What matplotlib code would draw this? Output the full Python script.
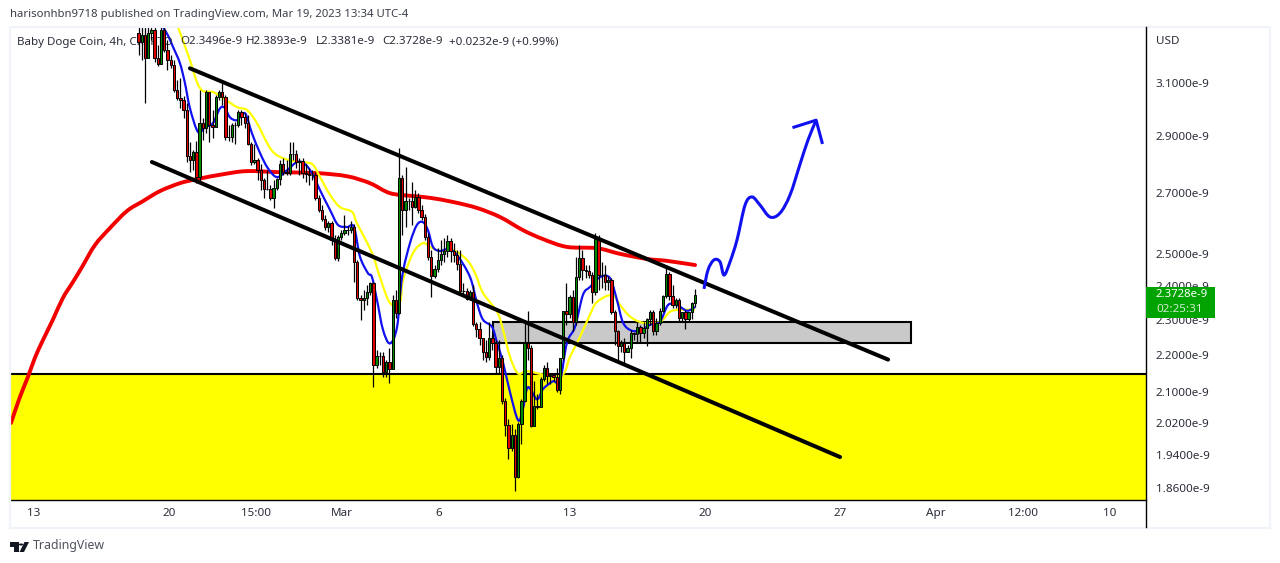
import matplotlib
matplotlib.use("Agg")
import matplotlib.pyplot as plt
from matplotlib.patches import Rectangle, Polygon, Circle, PathPatch
from matplotlib.path import Path
from matplotlib.ticker import FixedLocator, NullLocator
import numpy as np

# candles, 4h bars, prices in units of 1e-9
highs = [3.40, 3.40, 3.40, 3.40, 3.40, 3.40, 3.253, 3.40, 3.40, 3.274,
         3.212, 3.191, 3.112, 3.120, 3.049, 3.023, 2.876, 2.849, 2.880, 3.073,
         2.965, 3.073, 3.065, 2.996, 3.053, 3.073, 3.100, 3.053, 2.940, 2.947,
         2.951, 2.996, 2.996, 2.984, 2.977, 2.876, 2.869, 2.820, 2.799, 2.750,
         2.777, 2.725, 2.743, 2.750, 2.813, 2.820, 2.813, 2.876, 2.876, 2.849,
         2.820, 2.820, 2.799, 2.784, 2.777, 2.770, 2.692, 2.658, 2.625, 2.605,
         2.605, 2.559, 2.559, 2.575, 2.625, 2.588, 2.605, 2.595, 2.480, 2.373,
         2.388, 2.403, 2.412, 2.412, 2.215, 2.209, 2.209, 2.187, 2.220, 2.373,
         2.388, 2.856, 2.760, 2.788, 2.682, 2.736, 2.708, 2.698, 2.658, 2.628,
         2.565, 2.511, 2.464, 2.517, 2.543, 2.549, 2.559, 2.549, 2.533, 2.511,
         2.511, 2.409, 2.394, 2.388, 2.403, 2.294, 2.294, 2.248, 2.243, 2.294,
         2.257, 2.243, 2.243, 2.201, 2.083, 2.029, 2.016, 2.003, 2.021, 2.080,
         2.294, 2.326, 2.229, 2.128, 2.094, 2.139, 2.173, 2.179, 2.147, 2.147,
         2.165, 2.192, 2.326, 2.409, 2.373, 2.388, 2.490, 2.527, 2.511, 2.464,
         2.464, 2.443, 2.565, 2.559, 2.474, 2.464, 2.430, 2.424, 2.329, 2.271,
         2.243, 2.248, 2.229, 2.271, 2.265, 2.294, 2.285, 2.294, 2.306, 2.329,
         2.329, 2.306, 2.335, 2.373, 2.464, 2.443, 2.403, 2.364, 2.364,
         2.323, 2.329, 2.323, 2.352, 2.3893]
closes = [3.266, 3.292, 3.199, 3.301, 3.314, 3.199, 3.175, 3.314, 3.233, 3.191,
          3.171, 3.073, 3.042, 3.034, 2.996, 2.827, 2.813, 2.842, 2.753, 2.947,
          2.929, 3.065, 2.940, 2.932, 3.046, 3.065, 3.046, 2.896, 2.896, 2.940,
          2.940, 2.988, 2.969, 2.947, 2.869, 2.806, 2.813, 2.777, 2.743, 2.712,
          2.712, 2.682, 2.715, 2.746, 2.799, 2.770, 2.767, 2.835, 2.835, 2.806,
          2.810, 2.767, 2.763, 2.760, 2.760, 2.682, 2.641, 2.611, 2.585, 2.598,
          2.543, 2.486, 2.553, 2.565, 2.575, 2.575, 2.585, 2.474, 2.364, 2.358,
          2.364, 2.382, 2.409, 2.173, 2.198, 2.198, 2.152, 2.179, 2.160, 2.358,
          2.320, 2.750, 2.641, 2.671, 2.671, 2.651, 2.685, 2.641, 2.618, 2.553,
          2.490, 2.430, 2.452, 2.480, 2.499, 2.508, 2.540, 2.508, 2.495, 2.467,
          2.385, 2.385, 2.361, 2.382, 2.288, 2.274, 2.248, 2.209, 2.195, 2.248,
          2.234, 2.168, 2.192, 2.075, 2.013, 1.956, 1.988, 1.887, 2.016, 2.075,
          2.232, 2.218, 2.011, 2.062, 2.059, 2.133, 2.163, 2.141, 2.144, 2.139,
          2.104, 2.192, 2.326, 2.315, 2.367, 2.294, 2.427, 2.486, 2.449, 2.446,
          2.433, 2.382, 2.546, 2.433, 2.433, 2.412, 2.418, 2.323, 2.268, 2.226,
          2.234, 2.209, 2.220, 2.262, 2.260, 2.279, 2.262, 2.276, 2.303, 2.323,
          2.268, 2.291, 2.326, 2.370, 2.436, 2.370, 2.343, 2.358, 2.306,
          2.323, 2.303, 2.323, 2.3496, 2.3728]
lows = [3.212, 3.191, 3.023, 3.241, 3.274, 3.183, 3.167, 3.175, 3.225, 3.150,
        3.158, 3.065, 3.034, 3.003, 2.965, 2.806, 2.770, 2.777, 2.732, 2.732,
        2.885, 2.910, 2.876, 2.892, 2.932, 3.034, 3.015, 2.885, 2.880, 2.876,
        2.869, 2.932, 2.940, 2.929, 2.866, 2.795, 2.799, 2.743, 2.708, 2.682,
        2.708, 2.675, 2.648, 2.708, 2.725, 2.760, 2.760, 2.760, 2.813, 2.784,
        2.760, 2.750, 2.736, 2.725, 2.743, 2.675, 2.635, 2.605, 2.575, 2.568,
        2.527, 2.480, 2.477, 2.543, 2.559, 2.559, 2.565, 2.412, 2.358, 2.300,
        2.329, 2.343, 2.373, 2.112, 2.165, 2.173, 2.139, 2.139, 2.123, 2.160,
        2.306, 2.315, 2.559, 2.585, 2.641, 2.592, 2.648, 2.631, 2.608, 2.543,
        2.480, 2.367, 2.424, 2.443, 2.464, 2.474, 2.490, 2.474, 2.474, 2.449,
        2.382, 2.373, 2.358, 2.358, 2.282, 2.251, 2.229, 2.187, 2.179, 2.187,
        2.215, 2.147, 2.147, 2.067, 1.986, 1.929, 1.949, 1.853, 1.884, 1.966,
        2.075, 2.187, 2.008, 2.011, 2.054, 2.059, 2.128, 2.120, 2.120, 2.128,
        2.099, 2.094, 2.187, 2.285, 2.306, 2.268, 2.285, 2.418, 2.418, 2.424,
        2.424, 2.349, 2.373, 2.388, 2.394, 2.388, 2.388, 2.315, 2.229, 2.179,
        2.209, 2.173, 2.209, 2.192, 2.243, 2.237, 2.237, 2.248, 2.226, 2.285,
        2.257, 2.257, 2.285, 2.323, 2.364, 2.358, 2.335, 2.335, 2.294,
        2.294, 2.274, 2.294, 2.303, 2.3381]
first_open = 3.30
last_bar_day = 47.25  # days counted from Feb 1 = 1, Mar 1 = 29
bar_days = 1 / 6

# moving averages, day and price
blue_days = [19.68, 19.94, 20.20, 20.56, 20.82, 21.08, 21.50, 21.86, 22.27, 22.64,
             22.90, 23.15, 23.52, 23.93, 24.29, 24.71, 25.12, 25.59, 26.11, 26.63,
             27.04, 27.46, 27.82, 28.34, 28.75, 29.22, 29.58, 29.89, 30.30, 30.51,
             30.77, 31.08, 31.44, 31.81, 32.07, 32.48, 32.84, 33.15, 33.41, 33.67,
             34.03, 34.45, 34.92, 35.59, 35.95, 36.26, 36.73, 36.99, 37.30, 37.66,
             38.08, 38.33, 38.59, 39.06, 39.37, 39.89, 40.25, 40.61, 41.03, 41.44,
             41.81, 42.33, 42.84, 43.20, 43.52, 43.98, 44.50, 44.91, 45.43, 45.85,
             46.31, 46.83, 47.25]
blue_prices = [3.327, 3.292, 3.245, 3.179, 3.100, 3.003, 2.914, 2.932, 2.947, 3.003,
               3.003, 2.969, 2.958, 2.984, 2.910, 2.838, 2.784, 2.753, 2.777, 2.806,
               2.799, 2.760, 2.708, 2.641, 2.592, 2.585, 2.585, 2.490, 2.439, 2.427,
               2.358, 2.271, 2.232, 2.279, 2.427, 2.533, 2.592, 2.601, 2.575, 2.521,
               2.508, 2.514, 2.495, 2.427, 2.349, 2.300, 2.279, 2.234, 2.179, 2.099,
               2.026, 2.054, 2.112, 2.080, 2.107, 2.128, 2.128, 2.234, 2.279, 2.373,
               2.397, 2.427, 2.424, 2.358, 2.291, 2.268, 2.271, 2.285, 2.294, 2.343,
               2.343, 2.326, 2.337]
yellow_days = [20.46, 21.08, 21.44, 21.76, 22.27, 22.79, 23.52, 24.04, 24.55, 25.23,
               25.75, 26.63, 27.40, 27.82, 28.34, 28.85, 29.48, 29.73, 30.51, 30.92,
               31.44, 31.96, 32.12, 32.64, 33.15, 33.52, 34.03, 34.71, 35.43, 35.85,
               36.26, 36.99, 37.30, 37.66, 38.08, 38.59, 40.25, 40.77, 41.29, 41.81,
               42.17, 42.95, 43.36, 43.88, 44.55, 45.43, 45.95, 46.47, 47.25]
yellow_prices = [3.327, 3.191, 3.104, 3.069, 3.065, 3.042, 3.007, 2.996, 2.947, 2.856,
                 2.824, 2.806, 2.799, 2.753, 2.692, 2.651, 2.635, 2.598, 2.502, 2.427,
                 2.349, 2.352, 2.418, 2.502, 2.533, 2.521, 2.508, 2.511, 2.480, 2.439,
                 2.379, 2.323, 2.271, 2.195, 2.149, 2.155, 2.141, 2.195, 2.251, 2.315,
                 2.352, 2.373, 2.343, 2.309, 2.291, 2.294, 2.323, 2.329, 2.329]
red_days = [11.81, 12.27, 12.69, 13.05, 13.47, 13.98, 14.50, 15.02, 15.49, 16.16,
            16.94, 17.82, 18.65, 19.53, 20.56, 21.44, 22.79, 24.04, 25.75, 27.66,
            29.22, 30.41, 31.44, 32.64, 33.52, 34.71, 35.95, 37.14, 38.33, 39.37,
            40.61, 42.17, 43.36, 44.76, 45.80, 47.25]
red_prices = [2.019, 2.086, 2.140, 2.192, 2.242, 2.300, 2.364, 2.412, 2.458, 2.527,
              2.582, 2.638, 2.671, 2.705, 2.732, 2.746, 2.763, 2.774, 2.770, 2.767,
              2.756, 2.732, 2.698, 2.688, 2.682, 2.668, 2.648, 2.618, 2.575, 2.546,
              2.521, 2.517, 2.499, 2.483, 2.477, 2.464]

# hand drawn lines
upper_channel_days = [21.08, 57.25]
upper_channel_prices = [3.158, 2.187]
lower_channel_days = [19.11, 54.76]
lower_channel_prices = [2.806, 1.934]
zone_days = [36.78, 58.44]
zone_prices = [2.234, 2.294]
support_price = 2.147
arrow_days = [47.71, 47.92, 48.23, 48.54, 48.75, 49.06, 49.42, 49.84, 50.20, 50.61,
              51.13, 51.65, 52.17, 52.69, 53.10, 53.52]
arrow_prices = [2.391, 2.449, 2.480, 2.474, 2.433, 2.474, 2.543, 2.658, 2.685, 2.658,
                2.618, 2.631, 2.692, 2.799, 2.885, 2.958]
head_days = [52.37, 53.52, 53.83]
head_prices = [2.932, 2.958, 2.876]

# axis ticks, the time scale goes by bars so the labels are not evenly spaced in days
x_ticks = [13, 19.99, 24.5, 28.96, 33.98, 40.77, 47.76, 54.76, 59.73, 64.24, 68.75]
x_labels = ["13", "20", "15:00", "Mar", "6", "13", "20", "27", "Apr", "12:00", "10"]
y_ticks = [1.86, 1.94, 2.02, 2.1, 2.2, 2.3, 2.4, 2.5, 2.7, 2.9, 3.1]
y_labels = ["1.8600e-9", "1.9400e-9", "2.0200e-9", "2.1000e-9", "2.2000e-9", "2.3000e-9",
            "2.4000e-9", "2.5000e-9", "2.7000e-9", "2.9000e-9", "3.1000e-9"]

W, H = 1280, 563
plt.rcParams["font.family"] = ["Noto Sans", "DejaVu Sans"]
TXT = "#2a2e39"


def fx(px):
    return px / W


def fy(py):
    return 1 - py / H


def smooth_line(days, prices, **kw):
    # bezier through the read points so the line is drawn round, no extra points added
    xs = np.array(days)
    ys = np.log(prices)
    verts = [(xs[0], prices[0])]
    codes = [Path.MOVETO]
    for i in range(len(xs) - 1):
        x0, y0 = (xs[i - 1], ys[i - 1]) if i > 0 else (xs[i], ys[i])
        x3, y3 = (xs[i + 2], ys[i + 2]) if i < len(xs) - 2 else (xs[i + 1], ys[i + 1])
        c1 = (xs[i] + (xs[i + 1] - x0) / 6, ys[i] + (ys[i + 1] - y0) / 6)
        c2 = (xs[i + 1] - (x3 - xs[i]) / 6, ys[i + 1] - (y3 - ys[i]) / 6)
        verts += [(c1[0], np.exp(c1[1])), (c2[0], np.exp(c2[1])), (xs[i + 1], prices[i + 1])]
        codes += [Path.CURVE4] * 3
    return PathPatch(Path(verts, codes), fill=False, **kw)


fig = plt.figure(figsize=(W / 100, H / 100), dpi=100, facecolor="white")

# outer frame first
fig.add_artist(Rectangle((fx(9.5), fy(527.5)), fx(1260.5), (527.5 - 26.5) / H, transform=fig.transFigure,
                         fill=False, ec="#f0f3fa", lw=1.6))

ax = fig.add_axes([fx(10), fy(500), fx(1136), 473 / H])
ax.set_yscale("log")
ax.set_xlim(11.758, 70.61)
ax.set_ylim(1.832, 3.327)
ax.yaxis.set_major_locator(FixedLocator(y_ticks))
ax.yaxis.set_minor_locator(NullLocator())
ax.set_yticklabels(y_labels)
ax.yaxis.tick_right()
ax.tick_params(axis="y", length=0, pad=7, labelsize=8.4, labelcolor=TXT)
ax.set_xticks(x_ticks)
ax.set_xticklabels(x_labels)
ax.tick_params(axis="x", length=0, pad=6, labelsize=8.4, labelcolor=TXT)
for side in ["top", "left"]:
    ax.spines[side].set_visible(False)
ax.spines["bottom"].set_linewidth(1.0)
ax.spines["right"].set_visible(False)

# yellow zone and grey box
ax.axhspan(1.832, support_price, fc="#ffff00", ec="none", zorder=1)
ax.axhline(support_price, color="black", lw=1.5, zorder=2)
ax.add_patch(Rectangle((zone_days[0], zone_prices[0]), zone_days[1] - zone_days[0],
                       zone_prices[1] - zone_prices[0], fc="#c9c9c9", ec="black", lw=1.5, zorder=2))

# moving averages go under the candles
ax.add_patch(smooth_line(red_days, red_prices, ec="#f20000", lw=2.8, zorder=3, capstyle="round"))
ax.add_patch(smooth_line(yellow_days, yellow_prices, ec="#ffff00", lw=1.6, zorder=3))
ax.add_patch(smooth_line(blue_days, blue_prices, ec="#1010f0", lw=1.6, zorder=3))

# candles
closes_arr = np.array(closes)
opens = np.r_[first_open, closes_arr[:-1]]
x = last_bar_day - bar_days * np.arange(len(closes))[::-1]
colors = ["#008a00" if c >= o else "#e00000" for o, c in zip(opens, closes)]
ax.vlines(x, lows, highs, color="black", lw=0.9, zorder=4)
ax.bar(x, np.abs(closes_arr - opens), bottom=np.minimum(opens, closes_arr), width=bar_days * 0.72,
       color=colors, edgecolor="black", linewidth=0.7, zorder=4.5)

# channel and forecast
ax.plot(upper_channel_days, upper_channel_prices, color="black", lw=2.9, zorder=5, solid_capstyle="round")
ax.plot(lower_channel_days, lower_channel_prices, color="black", lw=2.9, zorder=5, solid_capstyle="round")
ax.add_patch(smooth_line(arrow_days, arrow_prices, ec="#1010f0", lw=2.2, zorder=5))
ax.plot(head_days, head_prices, color="#1010f0", lw=2.2, zorder=5)

# price axis line runs on below the time axis
fig.add_artist(plt.Line2D([fx(1146), fx(1146)], [fy(27), fy(527)], color="black", lw=1.0))

# header text
fig.text(fx(10), fy(14), "harisonhbn9718 published on TradingView.com, Mar 19, 2023 13:34 UTC-4",
         fontsize=8.15, color="#3b3f4a", va="center")
ax.text(fx(17), fy(42), "Baby Doge Coin, 4h, CRYPTO", transform=fig.transFigure, fontsize=8.3,
        color=TXT, va="center", zorder=3.5)
for px, s in zip([180, 246, 316, 382, 449],
                 ["O2.3496e-9", "H2.3893e-9", "L2.3381e-9", "C2.3728e-9", "+0.0232e-9 (+0.99%)"]):
    fig.text(fx(px), fy(42), s, fontsize=8.3, color=TXT, va="center")
fig.text(fx(1156), fy(41), "USD", fontsize=8.4, color=TXT, va="center")

# last price badge sits with the price on its first line
last_py = ax.transData.transform((0, closes[-1]))[1]
badge_mid = last_py / H
fig.add_artist(Rectangle((fx(1146), badge_mid - 23 / H), fx(69), 31 / H, transform=fig.transFigure,
                         fc="#00a300", ec="none", zorder=6))
fig.text(fx(1156), badge_mid, "2.3728e-9", fontsize=8.2, color="white", fontweight="bold",
         va="center", zorder=7)
fig.text(fx(1156), badge_mid - 15 / H, "02:25:31", fontsize=8.4, color="#cdeccd", va="center", zorder=7)

# TradingView mark
logo = "#131722"
fig.add_artist(Rectangle((fx(10), fy(547)), fx(8.5), 5 / H, transform=fig.transFigure, fc=logo, ec="none"))
fig.add_artist(Rectangle((fx(14), fy(552)), fx(4.5), 10 / H, transform=fig.transFigure, fc=logo, ec="none"))
fig.add_artist(Circle((fx(21), fy(544.5)), 2.3 / W, transform=fig.transFigure, fc=logo, ec="none"))
fig.add_artist(Polygon([(fx(19.5), fy(552)), (fx(24), fy(552)), (fx(29), fy(542)), (fx(24.5), fy(542))],
                       transform=fig.transFigure, fc=logo, ec="none"))
fig.text(fx(33), fy(546), "TradingView", fontsize=8.9, color="#50535e", va="center")

fig.savefig("out.png", dpi=100)
